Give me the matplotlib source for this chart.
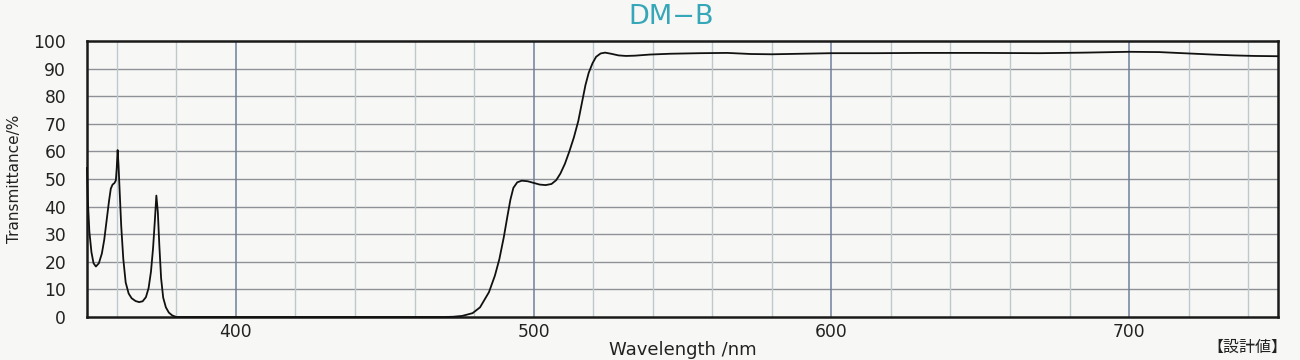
import matplotlib.pyplot as plt

# Wavelength (nm) and transmittance (%)
wavelength = [350.0, 350.3, 350.8, 351.5, 352.2, 353.0, 354.0, 355.0, 355.8, 356.6,
              357.4, 358.0, 358.6, 359.2, 359.7, 360.0, 360.3, 360.6, 361.0, 361.5,
              362.2, 363.0, 364.0, 365.0, 366.3, 367.5, 368.7, 369.8, 370.7, 371.5,
              372.2, 372.8, 373.3, 373.8, 374.3, 374.9, 375.6, 376.5, 377.5, 378.6,
              380.0, 400.0, 440.0, 470.0, 473.0, 476.0, 479.5, 482.0, 485.0, 487.0,
              488.5, 490.0, 491.2, 492.2, 493.2, 494.5, 496.0, 498.0, 500.0, 502.0,
              504.0, 506.0, 507.6, 509.0, 510.5, 512.0, 513.5, 515.0, 516.2, 517.4,
              518.5, 519.8, 521.0, 522.5, 524.0, 526.0, 528.5, 531.0, 534.0, 539.0,
              546.0, 556.0, 565.0, 573.0, 580.0, 590.0, 600.0, 615.0, 630.0, 650.0,
              670.0, 685.0, 700.0, 710.0, 720.0, 728.0, 735.0, 742.0, 750.0]
transmittance = [54.0, 42.0, 31.0, 23.5, 19.5, 18.3, 19.5, 23.0, 28.0, 35.0,
                 42.0, 46.5, 48.0, 48.5, 49.5, 54.0, 60.5, 55.0, 45.0, 33.0,
                 21.0, 12.5, 8.5, 6.8, 5.8, 5.4, 5.7, 7.2, 10.5, 16.5,
                 25.0, 35.0, 44.0, 38.0, 26.0, 14.0, 7.0, 3.5, 1.6, 0.6,
                 0.0, 0.0, 0.0, 0.0, 0.1, 0.4, 1.4, 3.5, 9.0, 15.0,
                 21.0, 29.0, 36.5, 42.5, 46.8, 48.8, 49.4, 49.2, 48.6, 48.0,
                 47.8, 48.2, 49.6, 52.0, 55.5, 60.0, 65.0, 71.0, 77.5, 84.0,
                 88.5, 92.0, 94.3, 95.5, 95.8, 95.4, 94.8, 94.6, 94.7, 95.1,
                 95.4, 95.6, 95.7, 95.3, 95.2, 95.4, 95.6, 95.6, 95.7, 95.7,
                 95.6, 95.8, 96.1, 96.0, 95.5, 95.1, 94.8, 94.6, 94.5]

major_x = [400, 500, 600, 700]
minor_x = [360, 380, 420, 440, 460, 480, 520, 540, 560, 580,
           620, 640, 660, 680, 720, 740]
y_ticks = list(range(0, 101, 10))

plt.rcParams['font.family'] = ['DejaVu Sans', 'Noto Sans CJK JP']

fig = plt.figure(figsize=(13, 3.6), dpi=100)
fig.patch.set_facecolor('#f7f7f5')
ax = fig.add_axes([0.0669, 0.1194, 0.9162, 0.7666])
ax.set_facecolor('#f7f7f5')

# Grid: grey horizontals, light minor verticals, darker blue majors
for v in y_ticks[1:-1]:
    ax.axhline(v, color='#8e9196', lw=1.0, zorder=1)
for v in minor_x:
    ax.axvline(v, color='#bccacd', lw=1.0, zorder=1)
for v in major_x:
    ax.axvline(v, color='#6f7f9c', lw=1.1, zorder=1)

ax.plot(wavelength, transmittance, color='#111111', lw=1.3, zorder=3,
        clip_on=False)

ax.set_xlim(350, 750)
ax.set_ylim(0, 100)
ax.set_xticks(major_x)
ax.set_yticks(y_ticks)
ax.tick_params(length=0, labelsize=12.3, colors='#222222')
ax.tick_params(axis='y', pad=15)
ax.tick_params(axis='x', pad=4)
for s in ax.spines.values():
    s.set_linewidth(1.8)
    s.set_color('#1a1a1a')

ax.set_xlabel('Wavelength /nm', fontsize=13, color='#222222', labelpad=0)
ax.set_ylabel('Transmittance/%', fontsize=11, color='#222222', labelpad=8)

fig.text(0.516, 0.952, 'DM\u2212B', color='#35a7b8', fontsize=19.5,
         ha='center', va='center')
fig.text(0.99, 0.035, '【設計値】', color='#222222', fontsize=11.5,
         ha='right', va='center', family=['Noto Sans CJK JP', 'DejaVu Sans'])

fig.savefig('out.png', dpi=100, facecolor=fig.get_facecolor())
